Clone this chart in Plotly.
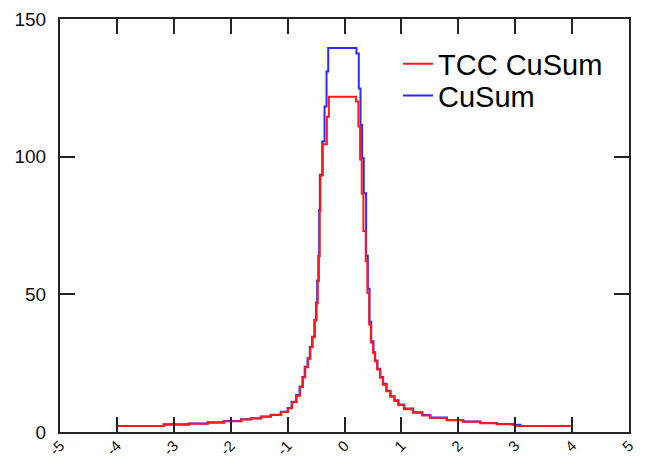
import plotly.graph_objects as go

# CuSum (blue) step data: each value holds on the interval ending at its x
cusum_x = [-4.00, -3.18, -2.74, -2.41, -2.12, -1.82, -1.65, -1.47, -1.30, -1.12, -1.00,
           -0.93, -0.85, -0.79, -0.74, -0.70, -0.65, -0.61, -0.57, -0.53, -0.50, -0.48,
           -0.46, -0.445, -0.433, -0.391, -0.351, -0.316, -0.286, 0.210,
           0.251, 0.281, 0.310, 0.339, 0.380, 0.41, 0.44, 0.47, 0.51, 0.54, 0.58,
           0.63, 0.68, 0.74, 0.81, 0.88, 0.95, 1.05, 1.21, 1.37, 1.51, 1.80, 2.09, 2.39,
           2.68, 2.96, 3.09, 4.00]
cusum_y = [2.2, 2.2, 2.8, 3.1, 3.5, 4.0, 4.6, 5.0, 5.6, 6.3, 7.4,
           8.7, 11.0, 13.4, 16.5, 20.0, 23.7, 26.8, 31.0, 34.6, 40.7, 47.0,
           55.0, 64.0, 80.6, 93.4, 105.5, 118.2, 130.9, 139.5,
           137.5, 124.8, 111.5, 99.4, 86.7, 64.0, 52.0, 40.0, 33.0, 29.0, 26.0,
           23.0, 20.0, 17.5, 15.0, 13.0, 11.5, 10.0, 8.5, 7.2, 6.2, 5.3, 4.4, 3.8,
           3.3, 2.9, 2.65, 2.2]

# TCC CuSum (red) step data
tcc_x = [-4.00, -3.17, -2.73, -2.40, -2.11, -1.81, -1.64, -1.46, -1.29, -1.11, -0.99,
         -0.92, -0.84, -0.78, -0.73, -0.69, -0.64, -0.60, -0.56, -0.52, -0.49, -0.47,
         -0.45, -0.435, -0.423, -0.381, -0.310, -0.275, 0.203,
         0.244, 0.274, 0.303, 0.332, 0.373, 0.403, 0.433, 0.463, 0.503, 0.533, 0.573,
         0.623, 0.673, 0.733, 0.803, 0.873, 0.943, 1.043, 1.203, 1.363, 1.503, 1.793,
         2.083, 2.383, 2.673, 2.95, 3.00, 4.00]
tcc_y = [2.2, 2.2, 2.6, 3.0, 3.4, 3.9, 4.5, 4.9, 5.5, 6.2, 7.3,
         8.6, 10.8, 13.2, 16.3, 19.8, 23.5, 26.6, 30.8, 34.4, 40.5, 46.8,
         54.8, 63.8, 80.4, 93.2, 104.5, 114.5, 121.8,
         120.0, 111.0, 99.0, 86.5, 73.0, 62.0, 50.5, 39.0, 32.5, 28.7, 25.7,
         22.7, 19.7, 17.2, 14.8, 12.8, 11.3, 9.8, 8.3, 7.0, 6.0, 5.1,
         4.3, 3.7, 3.2, 2.8, 2.5, 2.2]

x_ticks = [-5, -4, -3, -2, -1, 0, 1, 2, 3, 4, 5]
y_ticks = [0, 50, 100, 150]

fig = go.Figure()
fig.add_trace(go.Scatter(x=cusum_x, y=cusum_y, mode="lines", name="CuSum",
                         line=dict(color="#2a2aff", width=2, shape="vh"),
                         legend="legend2"))
fig.add_trace(go.Scatter(x=tcc_x, y=tcc_y, mode="lines", name="TCC CuSum",
                         line=dict(color="#ff1a1a", width=2, shape="vh"),
                         legend="legend"))

axis_common = dict(showline=True, linecolor="#222222", linewidth=2, mirror="ticks",
                   ticks="inside", ticklen=15, tickwidth=2, tickcolor="#222222",
                   showgrid=False, zeroline=False, automargin=False)

legend_common = dict(xanchor="left", yanchor="top", bgcolor="rgba(0,0,0,0)",
                     font=dict(size=29, family="Liberation Sans, Arial, sans-serif",
                               color="#000000"))

fig.update_layout(
    width=651, height=460,
    margin=dict(l=60, r=22, t=19, b=28),
    paper_bgcolor="white", plot_bgcolor="white",
    font=dict(family="Liberation Sans, Arial, sans-serif", color="#111111"),
    xaxis=dict(range=[-5, 5], tickvals=x_ticks, ticktext=[str(v) for v in x_ticks],
               tickangle=-45, tickfont=dict(size=15), ticklabelstandoff=-3,
               **axis_common),
    yaxis=dict(range=[0, 150], tickvals=y_ticks, tickfont=dict(size=19),
               ticklabelstandoff=8, **axis_common),
    legend=dict(x=0.594, y=0.953, **legend_common),
    legend2=dict(x=0.594, y=0.876, **legend_common),
    showlegend=True,
)

fig.write_html("out.html")
